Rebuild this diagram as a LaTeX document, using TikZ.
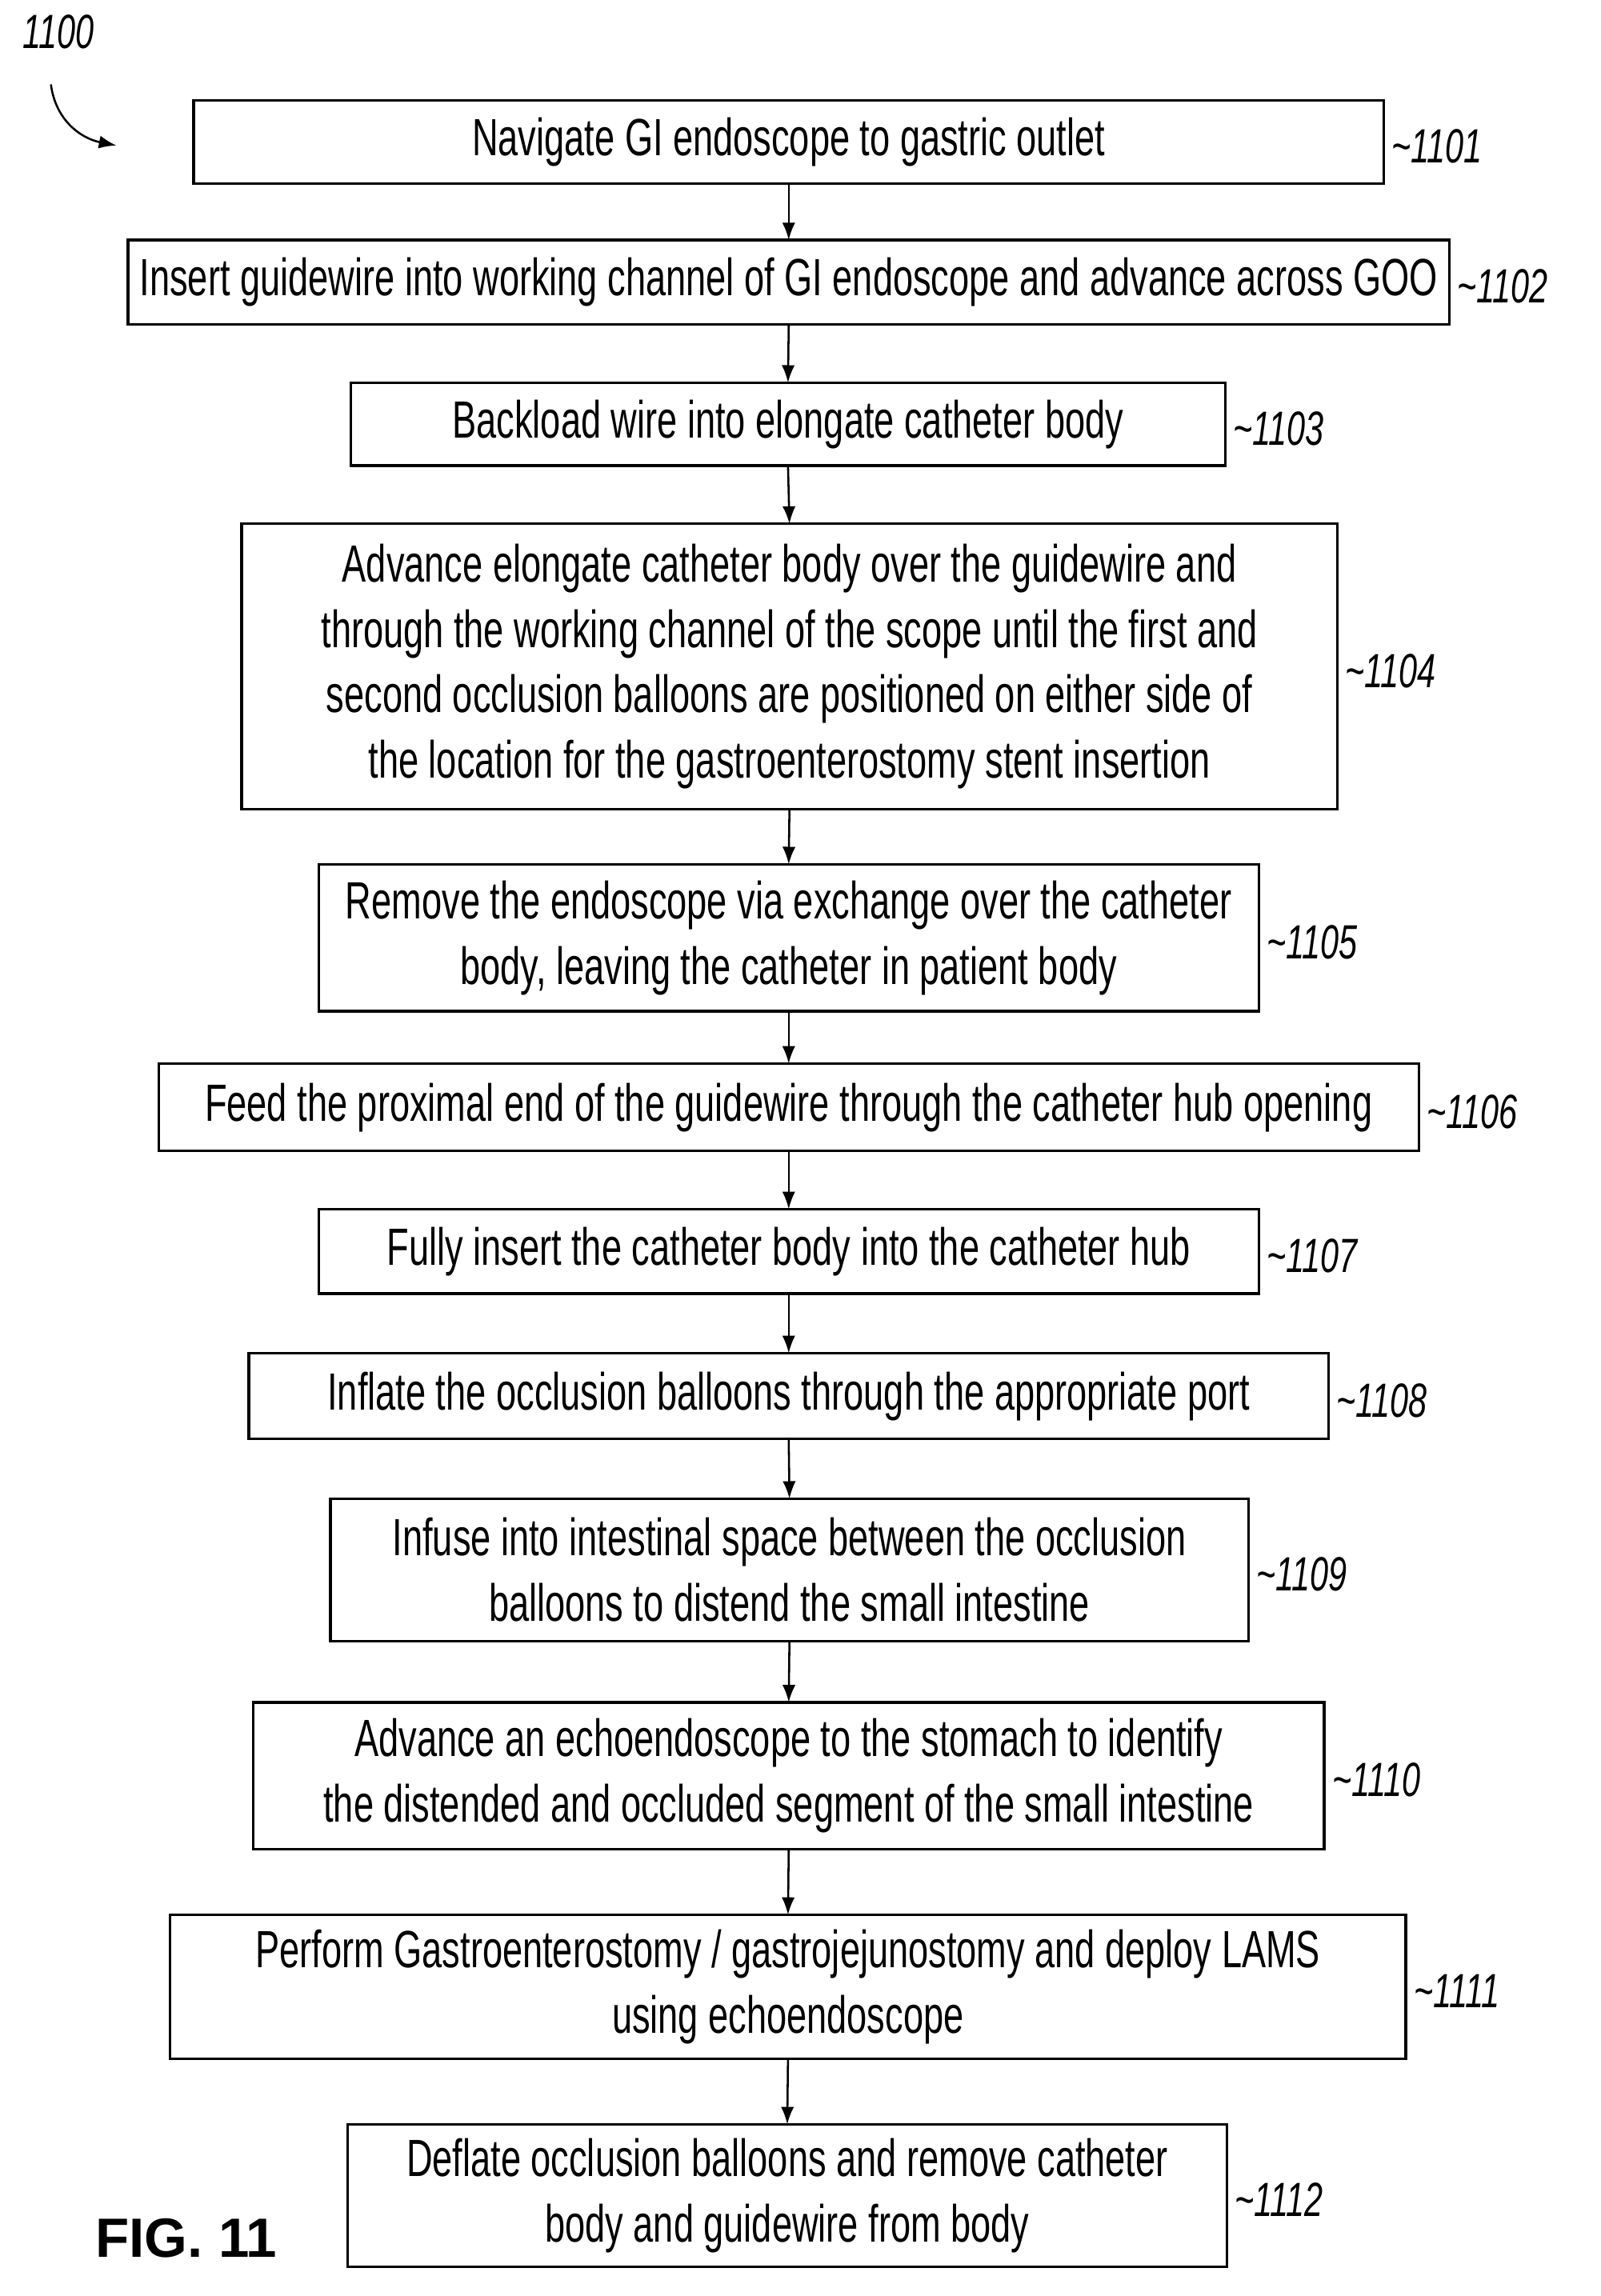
\documentclass[tikz,border=0pt]{standalone}
\usepackage{fontspec}
\setmainfont{Liberation Sans}[FakeStretch=0.69]
\newfontfamily\figfont{Liberation Sans}
\usetikzlibrary{arrows.meta}
\begin{document}
\begin{tikzpicture}[x=1pt,y=-1pt,
 lab/.style={anchor=west,font=\fontsize{33}{33}\selectfont\itshape},
 arr/.style={-{Latex[length=12pt,width=9pt]},line width=1.4pt}]
\useasboundingbox (0,0) rectangle (1100,1578);
\def\bx#1#2#3#4#5#6#7{\draw[line width=1.8pt] (#2,#3) rectangle (#4,#5);
 \node[font=\fontsize{36}{45}\selectfont,align=center] (#1) at ({(#2+#4)/2},{(#3+#5)/2}) {#6};
 \coordinate (#1t) at ({(#2+#4)/2},#3); \coordinate (#1b) at ({(#2+#4)/2},#5);
 \node[lab] at (#4+2,{(#3+#5)/2+3}) {\textasciitilde#7};}
\bx{a}{133}{69}{951}{126}{Navigate GI endoscope to gastric outlet}{1101}
\bx{b}{88}{165}{996}{223}{Insert guidewire into working channel of GI endoscope and advance across GOO}{1102}
\bx{c}{241}{263}{842}{320}{Backload wire into elongate catheter body}{1103}
\bx{d}{166}{360}{919}{556}{Advance elongate catheter body over the guidewire and\\through the working channel of the scope until the first and\\second occlusion balloons are positioned on either side of\\the location for the gastroenterostomy stent insertion}{1104}
\bx{e}{219}{594}{865}{695}{Remove the endoscope via exchange over the catheter\\body, leaving the catheter in patient body}{1105}
\bx{f}{109}{731}{975}{791}{Feed the proximal end of the guidewire through the catheter hub opening}{1106}
\bx{g}{219}{831}{865}{889}{Fully insert the catheter body into the catheter hub}{1107}
\bx{h}{171}{930}{913}{989}{Inflate the occlusion balloons through the appropriate port}{1108}
\bx{i}{227}{1030}{858}{1128}{Infuse into intestinal space between the occlusion\\balloons to distend the small intestine}{1109}
\bx{j}{174}{1170}{910}{1271}{Advance an echoendoscope to the stomach to identify\\the distended and occluded segment of the small intestine}{1110}
\bx{k}{117}{1316}{966}{1415}{Perform Gastroenterostomy / gastrojejunostomy and deploy LAMS\\using echoendoscope}{1111}
\bx{l}{239}{1460}{843}{1558}{Deflate occlusion balloons and remove catheter\\body and guidewire from body}{1112}
\foreach \p/\q in {a/b,b/c,c/d,d/e,e/f,f/g,g/h,h/i,i/j,j/k,k/l}
 \draw[arr] (\p b) -- (\q t);
\node[font=\fontsize{33}{33}\selectfont\itshape] (n) at (40,22) {1100};
\coordinate (m) at (80,100);
\draw[arr] (35,58) .. controls (38,82) and (55,95) .. (m);
\node[font=\figfont\bfseries\fontsize{38}{38}\selectfont] (fig) at (128,1538) {FIG. 11};
\end{tikzpicture}
\end{document}
